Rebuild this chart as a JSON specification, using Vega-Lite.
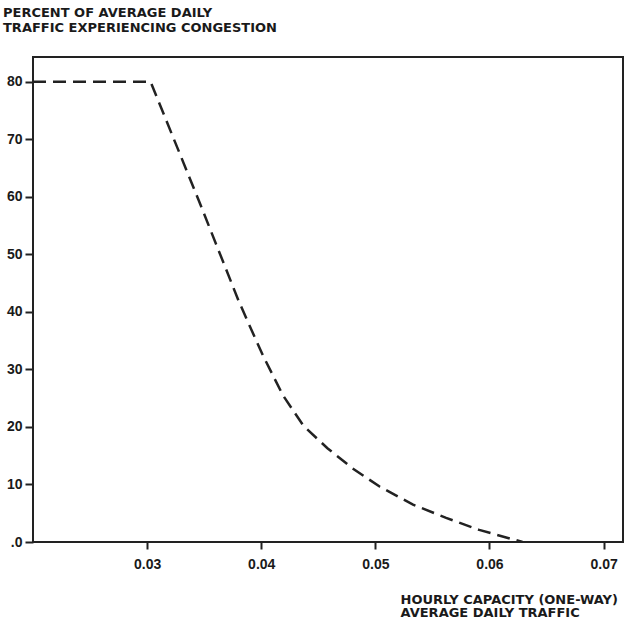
{
  "$schema": "https://vega.github.io/schema/vega-lite/v6.json",
  "width": 590,
  "height": 485,
  "autosize": {"type": "none"},
  "padding": {"left": 33, "top": 57, "right": 3, "bottom": 81},
  "background": "white",
  "config": {
    "view": {"stroke": "#222", "strokeWidth": 2},
    "font": "Liberation Sans"
  },
  "title": {
    "text": ["PERCENT OF AVERAGE DAILY", "TRAFFIC EXPERIENCING CONGESTION"],
    "anchor": "start",
    "frame": "group",
    "dx": -30,
    "offset": 22,
    "font": "DejaVu Sans",
    "fontSize": 13,
    "fontWeight": "bold",
    "lineHeight": 15,
    "color": "#1a1a1a"
  },
  "data": {
    "values": [
      {"ratio": 0.0200, "pct": 80},
      {"ratio": 0.0303, "pct": 80},
      {"ratio": 0.0345, "pct": 59.5},
      {"ratio": 0.0380, "pct": 42},
      {"ratio": 0.0390, "pct": 37.5},
      {"ratio": 0.0402, "pct": 32.2},
      {"ratio": 0.0419, "pct": 25.5},
      {"ratio": 0.0437, "pct": 20.2},
      {"ratio": 0.0458, "pct": 16.3},
      {"ratio": 0.0480, "pct": 12.8},
      {"ratio": 0.0504, "pct": 9.6},
      {"ratio": 0.0533, "pct": 6.5},
      {"ratio": 0.0562, "pct": 4.2},
      {"ratio": 0.0591, "pct": 2.1},
      {"ratio": 0.0629, "pct": 0}
    ]
  },
  "mark": {"type": "line", "color": "#222", "strokeWidth": 2.5, "strokeDash": [13, 7], "clip": true},
  "encoding": {
    "x": {
      "field": "ratio",
      "type": "quantitative",
      "scale": {"domain": [0.0200, 0.0717], "nice": false, "zero": false},
      "axis": {
        "values": [0.03, 0.04, 0.05, 0.06, 0.07],
        "format": ".2f",
        "grid": false,
        "domain": false,
        "tickColor": "#222",
        "tickWidth": 2,
        "tickSize": 7,
        "labelPadding": 8,
        "labelFont": "Liberation Sans",
        "labelFontSize": 14,
        "labelFontWeight": "bold",
        "labelColor": "#1a1a1a",
        "title": ["HOURLY CAPACITY (ONE-WAY)", "AVERAGE DAILY TRAFFIC"],
        "titleFont": "DejaVu Sans",
        "titleFontSize": 13,
        "titleFontWeight": "bold",
        "titleColor": "#1a1a1a",
        "titleAlign": "left",
        "titleAnchor": "start",
        "titleBaseline": "top",
        "titleLineHeight": 13.5,
        "titleX": 367,
        "titleY": 51
      }
    },
    "y": {
      "field": "pct",
      "type": "quantitative",
      "scale": {"domain": [0, 84.3], "nice": false},
      "axis": {
        "values": [0, 10, 20, 30, 40, 50, 60, 70, 80],
        "labelExpr": "datum.value === 0 ? '.0' : datum.label",
        "grid": false,
        "domain": false,
        "tickColor": "#222",
        "tickWidth": 2,
        "tickSize": 8,
        "labelPadding": 3,
        "labelFont": "Liberation Sans",
        "labelFontSize": 14,
        "labelFontWeight": "bold",
        "labelColor": "#1a1a1a",
        "title": null
      }
    }
  }
}
